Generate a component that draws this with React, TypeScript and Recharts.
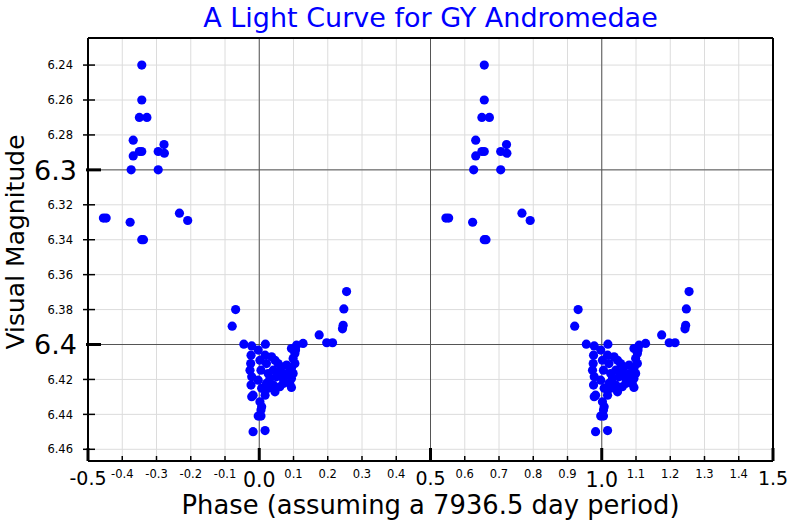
import {
  ScatterChart,
  Scatter,
  XAxis,
  YAxis,
  CartesianGrid,
  ReferenceLine,
} from 'recharts';

// phase folded onto [-0.5, 0.5); the chart shows each point again one cycle later
const phase = [
  -0.343, -0.343, -0.35, -0.328, -0.368, -0.278, -0.35, -0.343, -0.368, -0.295,
  -0.277, -0.374, -0.295, -0.455, -0.447, -0.377, -0.233, -0.209, -0.343, -0.338,
  -0.069, -0.079, 0.175, 0.197, 0.214, 0.255, 0.247, 0.245, 0.243,
  -0.045, -0.022, 0.018, 0.109, 0.128,
  -0.024, -0.025, -0.027, -0.022, -0.024, -0.018, -0.022,
  -0.003, 0.002, 0.005, -0.003, 0.007, 0.002, 0.007, 0.005, -0.003, 0.005,
  -0.018, 0.017,
  0.017, 0.021, 0.026, 0.021, 0.036, 0.046, 0.055, 0.041, 0.031, 0.05,
  0.06, 0.065, 0.07, 0.046, 0.07, 0.08, 0.08, 0.06, 0.041, 0.017, 0.026,
  0.094, 0.104, 0.099, 0.104, 0.094, 0.099, 0.094, 0.089, 0.094, 0.106,
];

const magnitude = [
  6.24, 6.26, 6.27, 6.27, 6.283, 6.2855, 6.2895, 6.2895, 6.292, 6.2895,
  6.2905, 6.3, 6.3, 6.3276, 6.3276, 6.33, 6.3248, 6.329, 6.34, 6.34,
  6.38, 6.3895, 6.3945, 6.399, 6.399, 6.3697, 6.3796, 6.389, 6.391,
  6.3998, 6.4008, 6.3998, 6.4004, 6.3994,
  6.4061, 6.4109, 6.4147, 6.4185, 6.4232, 6.429, 6.4299,
  6.4032, 6.409, 6.4147, 6.4204, 6.4251, 6.4328, 6.4356, 6.4375, 6.441, 6.441,
  6.4499, 6.4493,
  6.4061, 6.4109, 6.4166, 6.4223, 6.407, 6.409, 6.4109, 6.4147, 6.4194, 6.4185,
  6.4156, 6.4128, 6.4194, 6.4271, 6.4223, 6.4166, 6.4118, 6.4242, 6.4232, 6.429, 6.4251,
  6.4023, 6.4051, 6.408, 6.4109, 6.4137, 6.4166, 6.4194, 6.4223, 6.4246, 6.4032,
];

const phaseTicks = [
  -0.5, -0.4, -0.3, -0.2, -0.1, 0.0, 0.1, 0.2, 0.3, 0.4, 0.5,
  0.6, 0.7, 0.8, 0.9, 1.0, 1.1, 1.2, 1.3, 1.4, 1.5,
];
const magTicks = [
  6.24, 6.26, 6.28, 6.3, 6.32, 6.34, 6.36, 6.38, 6.4, 6.42, 6.44, 6.46,
];
const phaseDomain = [-0.5, 1.5];
const magDomain = [6.2245, 6.4667];
const majorPhaseLines = [0, 0.5, 1];
const majorMagLines = [6.3, 6.4];

const points = [
  ...phase.map((p, i) => ({ phase: p, mag: magnitude[i] })),
  ...phase.map((p, i) => ({ phase: p + 1, mag: magnitude[i] })),
];

const FONT = 'DejaVu Sans';

const isHalf = (v: number) => Math.abs(v * 2 - Math.round(v * 2)) < 1e-6;
const isWhole = (v: number) => Math.abs(v - Math.round(v)) < 1e-6 && Math.abs(v) < 1.2;
const isMajorMag = (v: number) => Math.abs(v * 10 - Math.round(v * 10)) < 1e-6;

function BottomTick({ x, y, payload }: any) {
  const v = payload.value;
  const major = isHalf(v);
  const whole = isWhole(v);
  const size = whole ? 20.5 : major ? 19 : 11.5;
  const dy = whole ? 25.5 : major ? 24 : 16.5;
  return (
    <g>
      <line
        x1={x}
        x2={x}
        y1={y}
        y2={y - (major ? 13 : 5)}
        stroke="#000"
        strokeWidth={major ? 3 : 1.5}
      />
      <text x={x} y={y + dy} textAnchor="middle" fontSize={size} fontFamily={FONT} fill="#000">
        {v.toFixed(1)}
      </text>
    </g>
  );
}

function TopTick({ x, y, payload }: any) {
  const major = isHalf(payload.value);
  return (
    <line
      x1={x}
      x2={x}
      y1={y}
      y2={y + (major ? 12 : 5)}
      stroke="#000"
      strokeWidth={major ? 3 : 1.5}
    />
  );
}

function LeftTick({ x, y, payload }: any) {
  const v = payload.value;
  const major = isMajorMag(v);
  return (
    <g>
      <line
        x1={x - (major ? 2 : 5)}
        x2={x + (major ? 13 : 7)}
        y1={y}
        y2={y}
        stroke="#000"
        strokeWidth={major ? 3 : 1.5}
      />
      <text
        x={x - (major ? 11 : 15)}
        y={y}
        dy="0.36em"
        textAnchor="end"
        fontSize={major ? 27 : 11.5}
        fontFamily={FONT}
        fill="#000"
      >
        {major ? v.toFixed(1) : v.toFixed(2)}
      </text>
    </g>
  );
}

function RightTick({ x, y, payload }: any) {
  const major = isMajorMag(payload.value);
  return (
    <line
      x1={x}
      x2={x - (major ? 12 : 7)}
      y1={y}
      y2={y}
      stroke="#000"
      strokeWidth={major ? 3 : 1.5}
    />
  );
}

const Dot = (props: any) => (
  <circle cx={props.cx} cy={props.cy} r={4.6} fill="#0000ff" />
);

export default function App() {
  const frame = { stroke: '#000', strokeWidth: 2 };
  return (
    <div style={{ position: 'relative', width: 800, height: 520, background: '#fff' }}>
      <style>{'body{margin:0;overflow:hidden}'}</style>
      <ScatterChart
        width={800}
        height={520}
        margin={{ top: 38, right: 27, bottom: 0, left: 0 }}
      >
        <CartesianGrid stroke="#dcdcdc" strokeWidth={1} />
        {majorPhaseLines.map((v) => (
          <ReferenceLine key={'x' + v} x={v} stroke="#555" strokeWidth={1} />
        ))}
        {majorMagLines.map((v) => (
          <ReferenceLine key={'y' + v} y={v} stroke="#555" strokeWidth={1} />
        ))}
        {/* top and right edges of the frame */}
        <ReferenceLine y={magDomain[0]} stroke="#000" strokeWidth={2} />
        <ReferenceLine x={phaseDomain[1]} stroke="#000" strokeWidth={2} />
        <XAxis
          type="number"
          dataKey="phase"
          domain={phaseDomain}
          ticks={phaseTicks}
          interval={0}
          allowDataOverflow
          height={59}
          tickSize={0}
          tickMargin={0}
          tickLine={false}
          axisLine={frame}
          tick={<BottomTick />}
        />
        <XAxis
          xAxisId="top"
          orientation="top"
          type="number"
          dataKey="phase"
          domain={phaseDomain}
          ticks={phaseTicks}
          interval={0}
          allowDataOverflow
          height={0}
          tickSize={0}
          tickMargin={0}
          tickLine={false}
          axisLine={false}
          tick={<TopTick />}
        />
        <YAxis
          type="number"
          dataKey="mag"
          domain={magDomain}
          reversed
          ticks={magTicks}
          interval={0}
          allowDataOverflow
          width={88}
          tickSize={0}
          tickMargin={0}
          tickLine={false}
          axisLine={frame}
          tick={<LeftTick />}
        />
        <YAxis
          yAxisId="right"
          orientation="right"
          type="number"
          dataKey="mag"
          domain={magDomain}
          reversed
          ticks={magTicks}
          interval={0}
          allowDataOverflow
          width={0}
          tickSize={0}
          tickMargin={0}
          tickLine={false}
          axisLine={false}
          tick={<RightTick />}
        />
        <Scatter data={points} fill="#0000ff" shape={Dot} isAnimationActive={false} />
      </ScatterChart>
      <svg
        width={800}
        height={520}
        style={{ position: 'absolute', left: 0, top: 0, pointerEvents: 'none' }}
      >
        <text x={430.5} y={26.5} textAnchor="middle" fontSize={27} fontFamily={FONT} fill="#0000ff">
          A Light Curve for GY Andromedae
        </text>
        <text
          transform="translate(23.5,242) rotate(-90)"
          textAnchor="middle"
          fontSize={25}
          fontFamily={FONT}
          fill="#000"
        >
          Visual Magnitude
        </text>
        <text x={430.5} y={514} textAnchor="middle" fontSize={25.8} fontFamily={FONT} fill="#000">
          Phase (assuming a 7936.5 day period)
        </text>
      </svg>
    </div>
  );
}
